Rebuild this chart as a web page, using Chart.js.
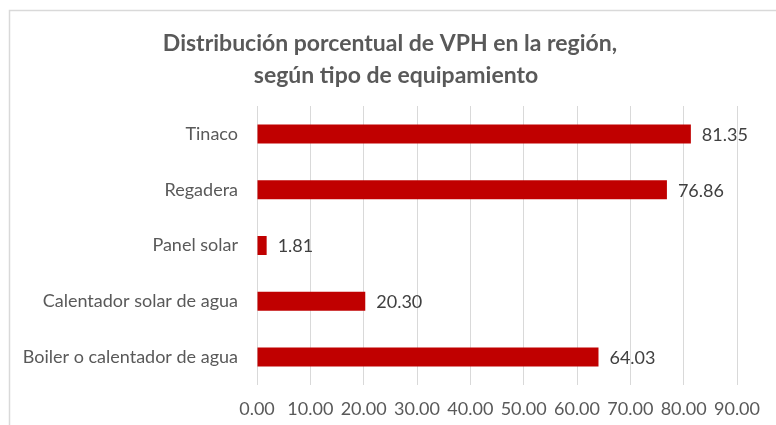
<!DOCTYPE html>
<html>
<head>
<meta charset="utf-8">
<script src="https://cdn.jsdelivr.net/npm/chart.js@4/dist/chart.umd.min.js"></script>
<style>
  html, body { margin: 0; padding: 0; background: #ffffff; }
  #wrap { position: absolute; left: 0; top: 0; width: 776px; height: 425px; }
</style>
</head>
<body>
<div id="wrap"><canvas id="c" width="776" height="425"></canvas></div>
<script>
const categories = ["Tinaco", "Regadera", "Panel solar", "Calentador solar de agua", "Boiler o calentador de agua"];
const values = [81.35, 76.86, 1.81, 20.30, 64.03];
const titleLines = ["Distribución porcentual de VPH en la región,", "según tipo de equipamiento"];
const xMin = 0, xMax = 90, xStep = 10;

const FONT = "Lato, 'Open Sans', sans-serif";

const framePlugin = {
  id: 'frame',
  beforeDraw(chart) {
    const ctx = chart.ctx;
    ctx.save();
    ctx.fillStyle = '#ffffff';
    ctx.fillRect(0, 0, chart.width, chart.height);
    ctx.strokeStyle = '#d9d9d9';
    ctx.lineWidth = 1.5;
    ctx.beginPath();
    ctx.moveTo(9.5, chart.height + 5);
    ctx.lineTo(9.5, 10.5);
    ctx.lineTo(chart.width + 5, 10.5);
    ctx.stroke();
    ctx.restore();
  }
};

const titlePlugin = {
  id: 'customTitle',
  afterDraw(chart) {
    const ctx = chart.ctx;
    ctx.save();
    ctx.font = "bold 23px " + FONT;
    ctx.fillStyle = '#595959';
    ctx.textAlign = 'center';
    ctx.textBaseline = 'alphabetic';
    ctx.fillText(titleLines[0], 390, 51);
    ctx.fillText(titleLines[1], 396, 83);
    ctx.restore();
  }
};

const valueLabels = {
  id: 'valueLabels',
  afterDatasetsDraw(chart) {
    const ctx = chart.ctx;
    const meta = chart.getDatasetMeta(0);
    ctx.save();
    ctx.font = "18px " + FONT;
    ctx.fillStyle = '#404040';
    ctx.textAlign = 'left';
    ctx.textBaseline = 'middle';
    meta.data.forEach((bar, i) => {
      const v = chart.data.datasets[0].data[i];
      ctx.fillText(v.toFixed(2), bar.x + 11, bar.y + 1);
    });
    ctx.restore();
  }
};

new Chart(document.getElementById('c'), {
  type: 'bar',
  data: {
    labels: categories,
    datasets: [{
      data: values,
      backgroundColor: '#C00000',
      borderWidth: 0,
      barPercentage: 0.68,
      categoryPercentage: 0.5
    }]
  },
  options: {
    indexAxis: 'y',
    responsive: false,
    animation: false,
    devicePixelRatio: 1,
    layout: { padding: { left: 0, right: 39, top: 106, bottom: 0 } },
    plugins: {
      legend: { display: false },
      tooltip: { enabled: false },
      title: { display: false }
    },
    scales: {
      x: {
        min: xMin, max: xMax,
        grid: { color: '#d9d9d9', drawTicks: false, lineWidth: 1 },
        border: { display: false },
        ticks: {
          stepSize: xStep,
          autoSkip: false,
          maxRotation: 0,
          color: '#595959',
          font: { family: FONT, size: 18 },
          padding: 13,
          callback: (v) => Number(v).toFixed(2)
        },
        afterFit(scale) { scale.height = 40; }
      },
      y: {
        grid: { display: false, drawTicks: false },
        border: { display: false },
        ticks: {
          color: '#595959',
          font: { family: FONT, size: 18 },
          padding: 19
        },
        afterFit(scale) { scale.width = 257; }
      }
    }
  },
  plugins: [framePlugin, valueLabels, titlePlugin]
});
</script>
</body>
</html>
